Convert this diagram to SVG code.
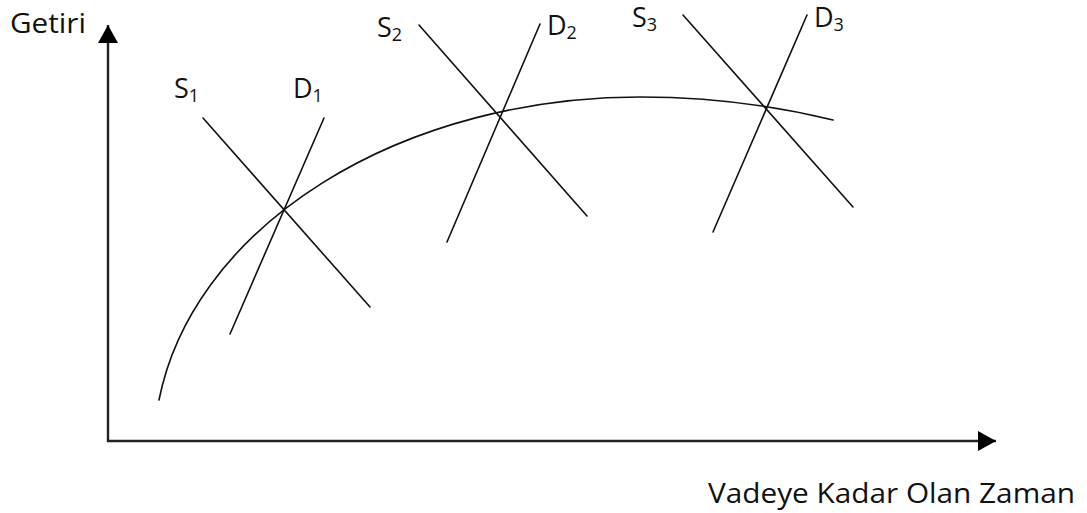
<svg xmlns="http://www.w3.org/2000/svg" width="1087" height="513" viewBox="0 0 1087 513">
<style>
.lbl{font-family:"Open Sans","Liberation Sans",sans-serif;font-size:27px;fill:#111}
.sub{font-size:18px}
.ln{stroke:#111;stroke-width:1.6;fill:none;stroke-linecap:round}
.ax{stroke:#222;stroke-width:2.4;fill:none}
</style>
<defs>
<marker id="ah" markerUnits="userSpaceOnUse" markerWidth="20" markerHeight="22" refX="18" refY="10" orient="auto">
<path d="M0,0 L18,10 L0,20 Z" fill="#000"/>
</marker>
</defs>
<g id="axes">
<path class="ax" d="M108,442 L108,25" marker-end="url(#ah)"/>
<path class="ax" d="M107,441 L996,441" marker-end="url(#ah)"/>
</g>
<g id="curve">
<path class="ln" d="M159,400 A486,353 0 0 1 640,97 Q740,97 833,120"/>
</g>
<g id="connectors">
<line class="ln" x1="203" y1="118" x2="370" y2="307"/>
<line class="ln" x1="324" y1="118" x2="230" y2="334"/>
<line class="ln" x1="419" y1="25" x2="587" y2="216"/>
<line class="ln" x1="540" y1="24" x2="447" y2="242"/>
<line class="ln" x1="683" y1="15" x2="853" y2="207"/>
<line class="ln" x1="807" y1="15" x2="713" y2="232"/>
</g>
<g id="label-getiri"><text class="lbl" x="10" y="33" textLength="76" lengthAdjust="spacingAndGlyphs">Getiri</text></g>
<g id="label-s1"><text class="lbl" x="174" y="98">S<tspan class="sub" dy="4">1</tspan></text></g>
<g id="label-d1"><text class="lbl" x="293" y="98">D<tspan class="sub" dy="4">1</tspan></text></g>
<g id="label-s2"><text class="lbl" x="377" y="37">S<tspan class="sub" dy="4">2</tspan></text></g>
<g id="label-d2"><text class="lbl" x="547" y="35">D<tspan class="sub" dy="4">2</tspan></text></g>
<g id="label-s3"><text class="lbl" x="632" y="27">S<tspan class="sub" dy="4">3</tspan></text></g>
<g id="label-d3"><text class="lbl" x="814" y="27">D<tspan class="sub" dy="4">3</tspan></text></g>
<g id="label-x"><text class="lbl" x="708" y="503" textLength="367" lengthAdjust="spacingAndGlyphs">Vadeye Kadar Olan Zaman</text></g>
</svg>
